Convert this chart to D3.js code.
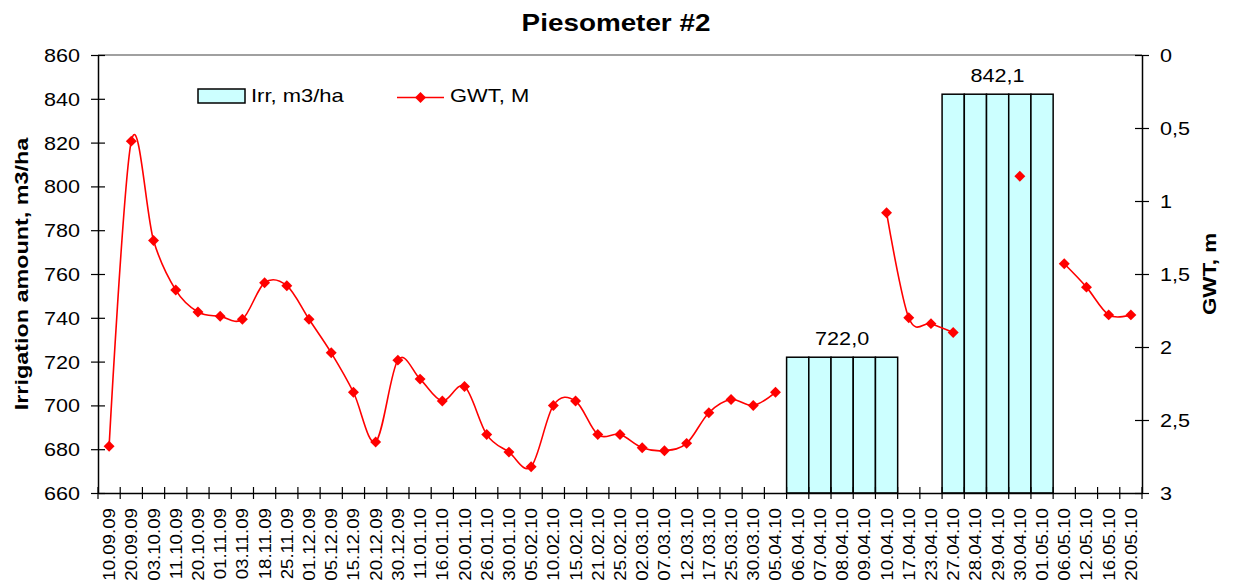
<!DOCTYPE html>
<html>
<head>
<meta charset="utf-8">
<script src="https://cdn.jsdelivr.net/npm/d3@7"></script>
<style>
  body { margin: 0; background: #fff; }
  svg { display: block; }
</style>
</head>
<body>
<div id="chart-area"></div>
<script>
// Piesometer #2 - irrigation bars + ground water table line

var dates = ["10.09.09","20.09.09","03.10.09","11.10.09","20.10.09","01.11.09","03.11.09","18.11.09",
  "25.11.09","01.12.09","05.12.09","15.12.09","20.12.09","30.12.09","11.01.10","16.01.10","20.01.10",
  "26.01.10","30.01.10","05.02.10","10.02.10","15.02.10","21.02.10","25.02.10","02.03.10","07.03.10",
  "12.03.10","17.03.10","25.03.10","30.03.10","05.04.10","06.04.10","07.04.10","08.04.10","09.04.10",
  "10.04.10","17.04.10","23.04.10","27.04.10","28.04.10","29.04.10","30.04.10","01.05.10","06.05.10",
  "12.05.10","16.05.10","20.05.10"];

// irrigation, m3/ha (only on watering days)
var irr = [null,null,null,null,null,null,null,null,null,null,null,null,null,null,null,null,null,
  null,null,null,null,null,null,null,null,null,null,null,null,null,null,
  722.0,722.0,722.0,722.0,722.0,
  null,null,
  842.1,842.1,842.1,842.1,842.1,
  null,null,null,null];

// ground water table depth, m
var gwt = [2.68,0.59,1.27,1.61,1.76,1.79,1.81,1.56,1.58,1.81,2.04,2.31,2.65,2.09,2.22,2.37,2.27,
  2.60,2.72,2.82,2.40,2.37,2.60,2.60,2.69,2.71,2.66,2.45,2.36,2.40,2.31,
  null,null,null,null,
  1.08,1.80,1.84,1.90,null,null,0.83,null,
  1.43,1.59,1.78,1.78];

// bar value labels shown on one bar of each group
var barLabels = [{ date: "08.04.10", text: "722,0" }, { date: "29.04.10", text: "842,1" }];

var irrTicks = [660,680,700,720,740,760,780,800,820,840,860];
var gwtTicks = [0,0.5,1,1.5,2,2.5,3];

var W = 1235, H = 587;
var plot = { x0: 98, x1: 1142, y0: 55, y1: 493 };
var FONT = "'Liberation Sans', Arial, Helvetica, sans-serif";

var data = dates.map(function(d, i) {
  return { date: d, irr: irr[i], gwt: gwt[i] };
});

var svg = d3.select("#chart-area")
  .append("svg")
    .attr("width", W)
    .attr("height", H);

var x = d3.scaleBand()
  .domain(dates)
  .range([plot.x0, plot.x1])
  .padding(0);

var yIrr = d3.scaleLinear()
  .domain([660, 860])
  .range([plot.y1, plot.y0]);

var yGwt = d3.scaleLinear()
  .domain([0, 3])
  .range([plot.y0, plot.y1]);

// top frame line
svg.append("line")
  .attr("x1", plot.x0).attr("x2", plot.x1)
  .attr("y1", plot.y0).attr("y2", plot.y0)
  .attr("stroke", "#808080")
  .attr("stroke-width", 1.5);

// bars
svg.selectAll("rect.bar")
  .data(data.filter(function(d) { return d.irr != null; }))
  .enter()
  .append("rect")
    .attr("class", "bar")
    .attr("x", function(d) { return x(d.date); })
    .attr("y", function(d) { return yIrr(d.irr); })
    .attr("width", x.bandwidth())
    .attr("height", function(d) { return plot.y1 - yIrr(d.irr); })
    .attr("fill", "#CCFFFF")
    .attr("stroke", "#000")
    .attr("stroke-width", 1.5);

// bar value labels
svg.selectAll("text.barlab")
  .data(barLabels)
  .enter()
  .append("text")
    .attr("class", "barlab")
    .attr("font-family", FONT)
    .attr("font-size", 18)
    .attr("text-anchor", "middle")
    .attr("transform", function(d) {
      var v = irr[dates.indexOf(d.date)];
      return "translate(" + (x(d.date) + x.bandwidth() / 2) + "," + (yIrr(v) - 12) + ") scale(1.2,1)";
    })
    .text(function(d) { return d.text; });

// GWT line (smoothed, broken at gaps)
var line = d3.line()
  .defined(function(d) { return d.gwt != null; })
  .x(function(d) { return x(d.date) + x.bandwidth() / 2; })
  .y(function(d) { return yGwt(d.gwt); })
  .curve(d3.curveCardinal.tension(0));

svg.append("path")
  .datum(data)
  .attr("d", line)
  .attr("fill", "none")
  .attr("stroke", "#FF0000")
  .attr("stroke-width", 1.6);

var diamond = d3.symbol().type(d3.symbolSquare).size(60);

svg.selectAll("path.pt")
  .data(data.filter(function(d) { return d.gwt != null; }))
  .enter()
  .append("path")
    .attr("class", "pt")
    .attr("d", diamond)
    .attr("fill", "#FF0000")
    .attr("transform", function(d) {
      return "translate(" + (x(d.date) + x.bandwidth() / 2) + "," + yGwt(d.gwt) + ") rotate(45)";
    });

// x axis
var xAxisCall = d3.axisBottom(x).tickSize(0).tickSizeOuter(0);

var xAxis = svg.append("g")
  .attr("transform", "translate(0," + plot.y1 + ")")
  .call(xAxisCall);

xAxis.select(".domain").attr("stroke", "#000").attr("stroke-width", 1.5);
xAxis.selectAll("text")
  .attr("x", 0).attr("y", 0).attr("dy", null)
  .attr("font-family", FONT)
  .attr("font-size", 17)
  .attr("fill", "#000")
  .attr("text-anchor", "end")
  .attr("transform", "translate(6,15) rotate(-90) scale(1.1,1)");

// tick marks on category boundaries
xAxis.selectAll("line.bound")
  .data(dates.concat(["end"]))
  .enter()
  .append("line")
    .attr("class", "bound")
    .attr("x1", function(d) { return d === "end" ? plot.x1 : x(d); })
    .attr("x2", function(d) { return d === "end" ? plot.x1 : x(d); })
    .attr("y1", -6).attr("y2", 6)
    .attr("stroke", "#000")
    .attr("stroke-width", 1.2);

// left axis
var yAxisCall = d3.axisLeft(yIrr).tickValues(irrTicks).tickSizeOuter(0);

var yAxis = svg.append("g")
  .attr("transform", "translate(" + plot.x0 + ",0)")
  .call(yAxisCall);

yAxis.select(".domain").attr("stroke", "#000").attr("stroke-width", 1.5);
yAxis.selectAll(".tick line").attr("x1", -7).attr("x2", 7).attr("stroke", "#000").attr("stroke-width", 1.2);
yAxis.selectAll(".tick text")
  .attr("x", 0).attr("dy", null)
  .attr("font-family", FONT)
  .attr("font-size", 18)
  .attr("fill", "#000")
  .attr("text-anchor", "end")
  .attr("transform", "translate(-18,6.5) scale(1.2,1)");

// right axis
var y2AxisCall = d3.axisRight(yGwt)
  .tickValues(gwtTicks)
  .tickSizeOuter(0)
  .tickFormat(function(d) { return String(d).replace(".", ","); });

var y2Axis = svg.append("g")
  .attr("transform", "translate(" + plot.x1 + ",0)")
  .call(y2AxisCall);

y2Axis.select(".domain").attr("stroke", "#000").attr("stroke-width", 1.5);
y2Axis.selectAll(".tick line").attr("x1", -7).attr("x2", 7).attr("stroke", "#000").attr("stroke-width", 1.2);
y2Axis.selectAll(".tick text")
  .attr("x", 0).attr("dy", null)
  .attr("font-family", FONT)
  .attr("font-size", 18)
  .attr("fill", "#000")
  .attr("text-anchor", "start")
  .attr("transform", "translate(18,6.5) scale(1.2,1)");

// title
svg.append("text")
  .attr("font-family", FONT)
  .attr("font-size", 24)
  .attr("font-weight", "bold")
  .attr("text-anchor", "middle")
  .attr("transform", "translate(616,31) scale(1.16,1)")
  .text("Piesometer #2");

// Y labels
svg.append("text")
  .attr("font-family", FONT)
  .attr("font-size", 19)
  .attr("font-weight", "bold")
  .attr("text-anchor", "middle")
  .attr("transform", "translate(28," + ((plot.y0 + plot.y1) / 2) + ") rotate(-90) scale(1.23,1)")
  .text("Irrigation amount, m3/ha");

svg.append("text")
  .attr("font-family", FONT)
  .attr("font-size", 19)
  .attr("font-weight", "bold")
  .attr("text-anchor", "middle")
  .attr("transform", "translate(1216," + ((plot.y0 + plot.y1) / 2) + ") rotate(-90) scale(1.18,1)")
  .text("GWT, m");

// legend
var legend = svg.append("g");

legend.append("rect")
  .attr("x", 198).attr("y", 89)
  .attr("width", 47).attr("height", 14)
  .attr("fill", "#CCFFFF")
  .attr("stroke", "#000")
  .attr("stroke-width", 1.5);

legend.append("text")
  .attr("font-family", FONT)
  .attr("font-size", 18)
  .attr("transform", "translate(251,102) scale(1.22,1)")
  .text("Irr, m3/ha");

legend.append("line")
  .attr("x1", 397).attr("x2", 444)
  .attr("y1", 97.5).attr("y2", 97.5)
  .attr("stroke", "#FF0000")
  .attr("stroke-width", 1.6);

legend.append("path")
  .attr("d", diamond)
  .attr("fill", "#FF0000")
  .attr("transform", "translate(420.5,97.5) rotate(45)");

legend.append("text")
  .attr("font-family", FONT)
  .attr("font-size", 18)
  .attr("transform", "translate(450,102) scale(1.22,1)")
  .text("GWT, M");
</script>
</body>
</html>
